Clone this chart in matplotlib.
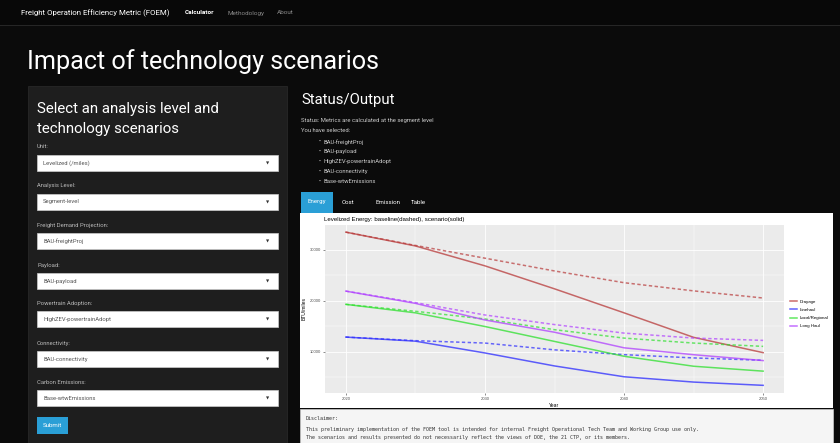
import numpy as np
import matplotlib
matplotlib.use("Agg")
import matplotlib.pyplot as plt
from matplotlib.patches import Rectangle

# data
years = [2020, 2025, 2030, 2035, 2040, 2045, 2050]
segments = ["Drayage", "Linehaul", "Local/Regional", "Long Haul"]
scenario = {
    "Drayage": [33400, 30700, 26800, 22300, 17600, 12800, 9800],
    "Linehaul": [12850, 12050, 9740, 7200, 5080, 4040, 3400],
    "Local/Regional": [19260, 17600, 14920, 12000, 9090, 7140, 6180],
    "Long Haul": [21850, 19450, 16200, 13800, 10750, 9400, 8250],
}
baseline = {
    "Drayage": [33400, 30800, 28300, 25800, 23500, 21900, 20500],
    "Linehaul": [12850, 12150, 11680, 10350, 9410, 8770, 8310],
    "Local/Regional": [19260, 17900, 16400, 14300, 12650, 11680, 11030],
    "Long Haul": [21850, 19600, 17180, 15300, 13630, 12660, 12200],
}
colors = {"Drayage": "#b83a3a", "Linehaul": "#2b2bff",
          "Local/Regional": "#2ee02e", "Long Haul": "#b040ff"}

selects = [("Unit:", "Levelized (/miles)"),
           ("Analysis Level:", "Segment-level"),
           ("Freight Demand Projection:", "BAU-freightProj"),
           ("Payload:", "BAU-payload"),
           ("Powertrain Adoption:", "HighZEV-powertrainAdopt"),
           ("Connectivity:", "BAU-connectivity"),
           ("Carbon Emissions:", "Base-wtwEmissions")]
select_tops = [155, 194, 233, 273, 311, 351, 390]
selected = ["BAU-freightProj", "BAU-payload", "HighZEV-powertrainAdopt",
            "BAU-connectivity", "Base-wtwEmissions"]
disclaimer = ["Disclaimer:",
              "This preliminary implementation of the FOEM tool is intended for internal Freight Operational Tech Team and Working Group use only.",
              "The scenarios and results presented do not necessarily reflect the views of DOE, the 21 CTP, or its members."]

W, H = 840, 443
plt.rcParams["font.family"] = ["Roboto", "DejaVu Sans"]
fig = plt.figure(figsize=(W / 100, H / 100), dpi=100, facecolor="#0b0b0b")

def rect(x0, y0, x1, y1, **kw):
    fig.add_artist(Rectangle((x0 / W, 1 - y1 / H), (x1 - x0) / W, (y1 - y0) / H,
                             transform=fig.transFigure, **kw))

def txt(x, y, s, **kw):
    kw.setdefault("va", "center")
    fig.text(x / W, 1 - y / H, s, **kw)

# navbar
rect(0, 0, W, 25, facecolor="#080808", edgecolor="none")
rect(0, 25, W, 26, facecolor="#262626", edgecolor="none")
txt(21, 13, "Freight Operation Efficiency Metric (FOEM)", color="white", fontsize=5.7)
txt(185, 13, "Calculator", color="white", fontsize=4.6, fontweight="bold")
txt(227, 13, "Methodology", color="#888888", fontsize=4.6)
txt(277, 13, "About", color="#888888", fontsize=4.6)

txt(27, 62, "Impact of technology scenarios", color="white", fontsize=18.1)

# sidebar
rect(28, 86, 287, H + 2, facecolor="#1e1e1e", edgecolor="#282828", linewidth=0.6)
txt(37, 109, "Select an analysis level and", color="white", fontsize=10.8)
txt(37, 129, "technology scenarios", color="white", fontsize=10.8)
for (lab, val), top in zip(selects, select_tops):
    txt(37, top - 8, lab, color="#bbbbbb", fontsize=4.2)
    rect(37, top, 278, top + 16, facecolor="white", edgecolor="#cccccc", linewidth=0.5)
    txt(43, top + 8, val, color="#555555", fontsize=4.2)
    txt(268, top + 8.5, "\u25bc", color="#333333", fontsize=3, ha="center")
rect(37, 417, 68, 434, facecolor="#2a9fd6", edgecolor="none")
txt(52.5, 425.5, "Submit", color="white", fontsize=4.4, ha="center")

# status area
txt(301, 100, "Status/Output", color="white", fontsize=10.7)
txt(301, 121, "Status: Metrics are calculated at the segment level", color="#cccccc", fontsize=4.2)
txt(301, 131, "You have selected:", color="#cccccc", fontsize=4.2)
for i, s in enumerate(selected):
    y = 141.7 + i * 10
    txt(320, y, "\u2022", color="#cccccc", fontsize=4.2, ha="center")
    txt(324, y, s, color="#cccccc", fontsize=4.2)

# tabs
rect(301, 192, 333, 213, facecolor="#2a9fd6", edgecolor="none")
txt(317, 202, "Energy", color="white", fontsize=4.4, ha="center")
txt(348, 202, "Cost", color="white", fontsize=4.4, ha="center")
txt(388, 202, "Emission", color="white", fontsize=4.4, ha="center")
txt(418, 202, "Table", color="white", fontsize=4.4, ha="center")

# plot widget + disclaimer
rect(300, 213, 833, 408, facecolor="white", edgecolor="none")
rect(300, 409, 833, H + 2, facecolor="#f5f5f5", edgecolor="#cccccc", linewidth=0.5)
for i, line in enumerate(disclaimer):
    txt(306, [418, 429, 438][i], line, color="#333333", fontsize=3.62,
        family=["DejaVu Sans Mono"])

# chart
ax = fig.add_axes([325 / W, 1 - 393 / H, (784 - 325) / W, (393 - 225) / H])
ax.set_zorder(5)
ax.set_facecolor("#ebebeb")
for seg in segments:
    ax.plot(years, baseline[seg], color=colors[seg], lw=1.1, alpha=0.7,
            linestyle=(0, (2.2, 1.6)))
    ax.plot(years, scenario[seg], color=colors[seg], lw=1.1, alpha=0.75, label=seg)
ax.set_xlim(2018.5, 2051.5)
ax.set_ylim(1900, 34800)
ax.set_xticks([2020, 2030, 2040, 2050])
ax.set_xticks([2025, 2035, 2045], minor=True)
ax.set_yticks([10000, 20000, 30000])
ax.set_yticks([5000, 15000, 25000], minor=True)
ax.grid(which="major", color="white", lw=0.6)
ax.grid(which="minor", color="white", lw=0.3)
ax.set_axisbelow(True)
for sp in ax.spines.values():
    sp.set_visible(False)
ax.tick_params(which="major", labelsize=3, colors="#333333", length=1.5, width=0.4,
               pad=1.5, labelcolor="#4d4d4d")
ax.tick_params(which="minor", length=0)
ax.set_xlabel("Year", fontsize=3.6, labelpad=1.5, family=["Liberation Sans"])
ax.set_ylabel("BTU/miles", fontsize=3.6, labelpad=2, family=["Liberation Sans"])
for t in ax.get_xticklabels() + ax.get_yticklabels():
    t.set_family(["Liberation Sans"])
ax.set_title("Levelized Energy: baseline(dashed), scenario(solid)", fontsize=4.4,
             loc="left", pad=3, family=["Liberation Sans"], x=-0.002)
leg = ax.legend(loc="center left", bbox_to_anchor=(1.005, 0.47),
                frameon=False, handlelength=1.4, handletextpad=0.7, labelspacing=0.9,
                prop={"family": ["Liberation Sans"], "size": 3.2})

fig.savefig("out.png", dpi=100, facecolor=fig.get_facecolor())
